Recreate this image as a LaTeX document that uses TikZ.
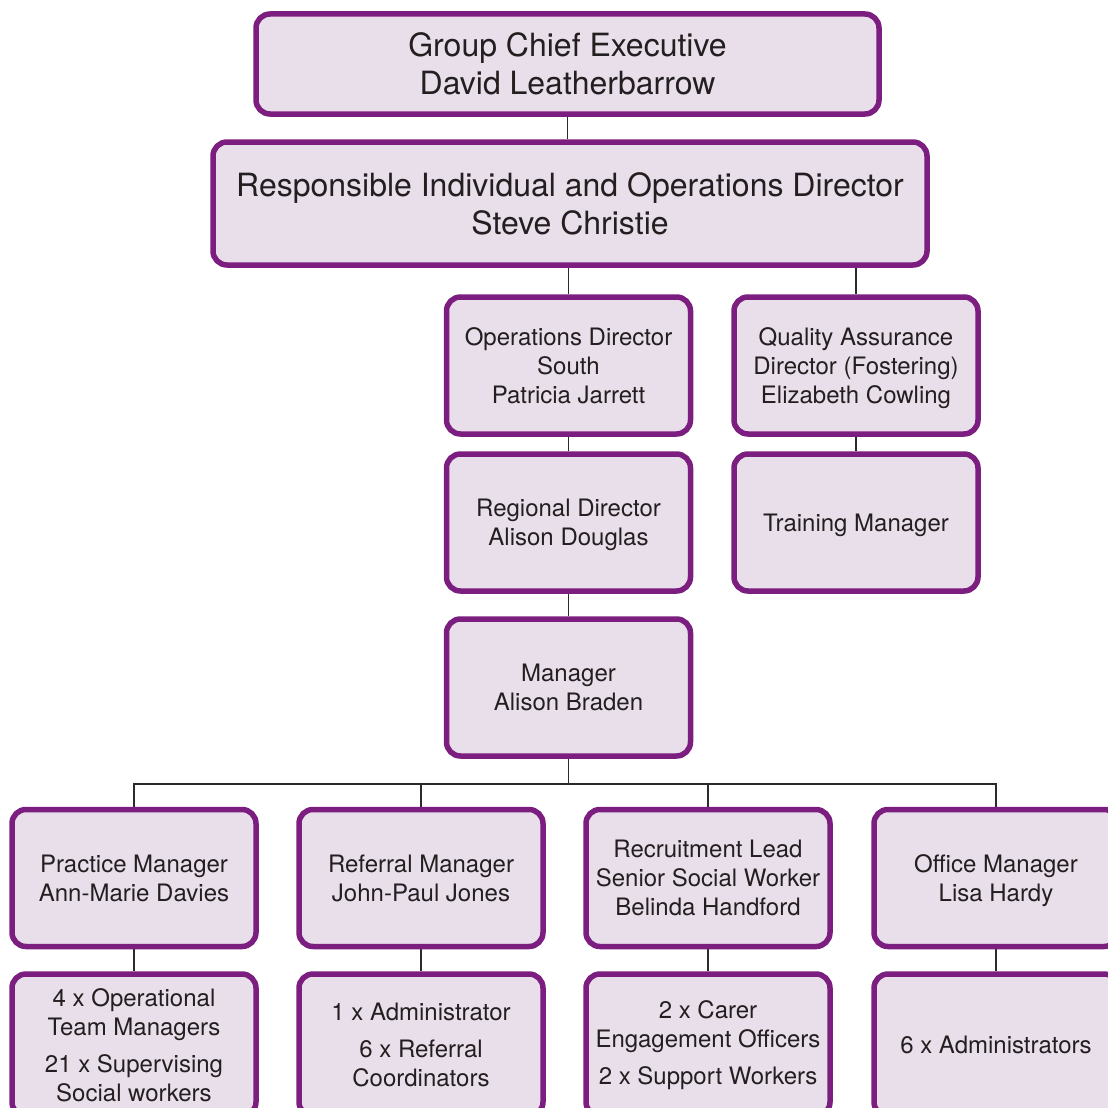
\documentclass[tikz,border=0pt]{standalone}
\usepackage{fontspec}
\setmainfont{TeX Gyre Heros}
\usetikzlibrary{backgrounds}
\definecolor{boxborder}{HTML}{7B1E80}
\definecolor{boxfill}{HTML}{E8DFEA}
\definecolor{txt}{HTML}{231F20}
\definecolor{linec}{HTML}{2B2B2B}
\begin{document}
\begin{tikzpicture}[x=1pt,y=-1pt,
  box/.style={draw=boxborder, fill=boxfill, line width=5.5pt, rounded corners=14pt,
    align=center, text=txt, font=\fontsize{24}{29}\selectfont, inner sep=0pt,
    minimum width=244pt, minimum height=137pt, text depth=-7pt},
  lowbox/.style={box, minimum height=142pt, text depth=},
  big/.style={box, font=\fontsize{32}{38}\selectfont, text depth=-6pt},
  conn/.style={draw=linec, line width=1.5pt}]
\useasboundingbox (0,0) rectangle (1108,1108);
\clip (0,0) rectangle (1108,1108);

\node[big, minimum width=623pt, minimum height=100pt] (gce) at (567.5,64) {Group Chief Executive\\David Leatherbarrow};
\node[big, minimum width=714pt, minimum height=123pt] (rio) at (570,203.5) {Responsible Individual and Operations Director\\Steve Christie};
\node[box] (ods) at (568.5,365.5) {Operations Director\\South\\Patricia Jarrett};
\node[box] (qad) at (856,365.5) {Quality Assurance\\Director (Fostering)\\Elizabeth Cowling};
\node[box] (rd) at (568.5,522.5) {Regional Director\\Alison Douglas};
\node[box] (tm) at (856,522.5) {Training Manager};
\node[box] (mgr) at (568.5,687.5) {Manager\\Alison Braden};

\node[box] (pm) at (134,878) {Practice Manager\\Ann-Marie Davies};
\node[box] (rm) at (421,878) {Referral Manager\\John-Paul Jones};
\node[box] (rl) at (708,878) {Recruitment Lead\\Senior Social Worker\\Belinda Handford};
\node[box] (om) at (996,878) {Office Manager\\Lisa Hardy};

\node[lowbox] (pmt) at (134,1045) {4 x Operational\\Team Managers\\[8pt]21 x Supervising\\Social workers};
\node[lowbox] (rmt) at (421,1045) {1 x Administrator\\[8pt]6 x Referral\\Coordinators};
\node[lowbox] (rlt) at (708,1045) {2 x Carer\\Engagement Officers\\[8pt]2 x Support Workers};
\node[lowbox] (omt) at (996,1045) {6 x Administrators};

\begin{scope}[on background layer]
\draw[conn] (gce.south) -- (gce.south |- rio.north);
\draw[conn] (rio.south -| ods.north) -- (ods.north);
\draw[conn] (qad.north) -- (qad.north |- rio.south);
\draw[conn] (ods) -- (rd);
\draw[conn] (qad) -- (tm);
\draw[conn] (rd) -- (mgr);
\coordinate (bus) at (568.5,784);
\draw[conn] (mgr.south) -- (bus);
\draw[conn] (pm.north) -- (pm.north |- bus) -- (om.north |- bus) -- (om.north);
\draw[conn] (rm.north) -- (rm.north |- bus);
\draw[conn] (rl.north) -- (rl.north |- bus);
\draw[conn] (pm) -- (pmt);
\draw[conn] (rm) -- (rmt);
\draw[conn] (rl) -- (rlt);
\draw[conn] (om) -- (omt);
\end{scope}
\end{tikzpicture}
\end{document}
